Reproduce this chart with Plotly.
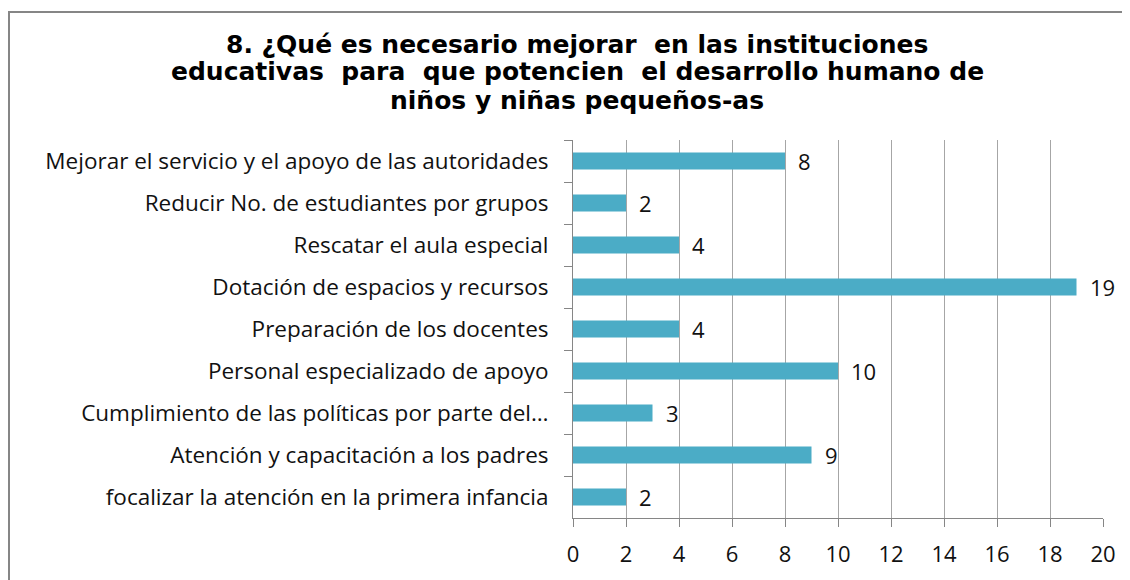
import plotly.graph_objects as go

categories = [
    "Mejorar el servicio y el apoyo de las autoridades",
    "Reducir No. de estudiantes por grupos",
    "Rescatar el aula especial",
    "Dotación de espacios y recursos",
    "Preparación de los docentes",
    "Personal especializado de apoyo",
    "Cumplimiento de las políticas por parte del…",
    "Atención y capacitación a los padres",
    "focalizar la atención en la primera infancia",
]
values = [8, 2, 4, 19, 4, 10, 3, 9, 2]
x_ticks = [0, 2, 4, 6, 8, 10, 12, 14, 16, 18, 20]

title_lines = [
    "8. ¿Qué es necesario mejorar\u00a0 en las instituciones",
    "educativas\u00a0 para\u00a0 que potencien\u00a0 el desarrollo humano de",
    "niños y niñas pequeños-as",
]
title_line_px = [36, 64, 92]  # vertical centres in figure pixels

W, H = 1130, 580
L, R, T, B = 565, 35, 132, 70
pw, ph = W - L - R, H - T - B

LABEL_FONT = "Open Sans, Lato, sans-serif"

fig = go.Figure()
fig.add_trace(go.Bar(
    x=values, y=categories, orientation="h",
    marker=dict(color="#4BACC6", line=dict(width=0)),
    width=0.4,
    hoverinfo="x+y",
))

for v, c in zip(values, categories):
    fig.add_annotation(x=v, y=c, text=str(v), showarrow=False,
                       xanchor="left", xshift=11,
                       font=dict(family=LABEL_FONT, size=22, color="#111111"))

for line, ypx in zip(title_lines, title_line_px):
    fig.add_annotation(xref="paper", yref="paper",
                       x=(569 - L) / pw, y=1 + (T - ypx) / ph,
                       xanchor="center", yanchor="middle", showarrow=False,
                       text=line,
                       font=dict(family="DejaVu Sans, Liberation Sans, sans-serif", size=25,
                                 color="#000000", weight="bold"))

# outer border (chart area frame)
fig.add_shape(type="rect", xref="paper", yref="paper",
              x0=(1 - L) / pw, x1=(W + 20 - L) / pw,
              y0=-(H + 20 - (T + ph)) / ph, y1=1 + (T - 4) / ph,
              line=dict(color="#868686", width=2), fillcolor="rgba(0,0,0,0)", layer="below")

fig.update_layout(
    width=W, height=H,
    margin=dict(l=L, r=R, t=T, b=B, autoexpand=False),
    paper_bgcolor="white", plot_bgcolor="white",
    showlegend=False,
    xaxis=dict(range=[0, 20], tickvals=x_ticks, ticks="outside", ticklen=8, tickcolor="#868686",
               showgrid=True, gridcolor="#A6A6A6", gridwidth=1,
               showline=True, linecolor="#868686", linewidth=1, zeroline=False,
               tickfont=dict(family=LABEL_FONT, size=22, color="#111111"),
               ticklabelstandoff=9, fixedrange=True),
    yaxis=dict(autorange="reversed", ticks="outside", ticklen=8, tickcolor="#868686",
               tickson="boundaries", showgrid=False, showline=True, linecolor="#868686",
               linewidth=1, zeroline=False,
               tickfont=dict(family=LABEL_FONT, size=22.5, color="#111111"),
               ticklabelstandoff=19, fixedrange=True),
)

fig.write_html("out.html")
